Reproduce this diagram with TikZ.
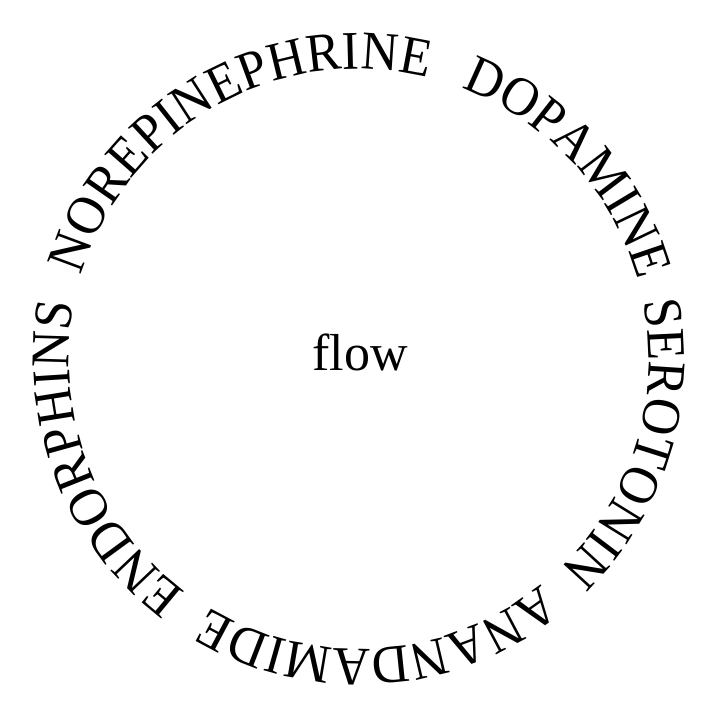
\documentclass[tikz,border=0pt]{standalone}
\usepackage{fontspec}
\setmainfont{Liberation Serif}
\newfontfamily\ringfont{Liberation Serif}[FakeStretch=0.945]
\usetikzlibrary{decorations.text}
\tikzset{
  ringtext/.style={decorate, decoration={text along path, text format delimiters={|}{|}, text={|\ringfont\fontsize{54.5}{54.5}\selectfont|#1}}},
  centertext/.style={font=\fontsize{52}{52}\selectfont, inner sep=0pt, anchor=base}
}
\def\R{290}
\begin{document}
\begin{tikzpicture}[x=1pt,y=1pt]
\useasboundingbox (0,0) rectangle (720,720);
\coordinate (c) at (359,361);
\path[ringtext={NOREPINEPHRINE}] (c) ++(163.3:\R) arc[start angle=163.3, end angle=60, radius=\R];
\path[ringtext={DOPAMINE}] (c) ++(69.4:\R) arc[start angle=69.4, end angle=0, radius=\R];
\path[ringtext={SEROTONIN}] (c) ++(11.5:\R) arc[start angle=11.5, end angle=-60, radius=\R];
\path[ringtext={ANANDAMIDE}] (c) ++(-51:\R) arc[start angle=-51, end angle=-135, radius=\R];
\path[ringtext={ENDORPHINS}] (c) ++(-126.6:\R) arc[start angle=-126.6, end angle=-205, radius=\R];
\node[centertext] (flow) at (360,349) {flow};
\end{tikzpicture}
\end{document}
